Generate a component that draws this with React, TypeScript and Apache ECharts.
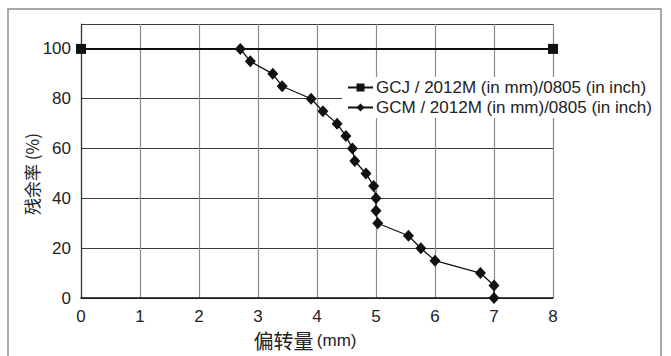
import React, { useEffect, useRef } from "react";
import * as echarts from "echarts";

const gcjX = [0, 8];
const gcjY = [100, 100];
const gcmX = [2.7, 2.87, 3.25, 3.41, 3.9, 4.1, 4.34, 4.49, 4.6, 4.64, 4.83, 4.96, 5.0, 5.0, 5.03, 5.55, 5.76, 6.0, 6.77, 7.0, 7.0];
const gcmY = [100, 95, 90, 85, 80, 75, 70, 65, 60, 55, 50, 45, 40, 35, 30, 25, 20, 15, 10, 5, 0];
const seriesNames = ["GCJ / 2012M (in mm)/0805 (in inch)", "GCM / 2012M (in mm)/0805 (in inch)"];
const xTicks = [0, 1, 2, 3, 4, 5, 6, 7, 8];
const yTicks = [0, 20, 40, 60, 80, 100];

const FONT = "Liberation Sans, Arial, sans-serif";
const CJK = "Noto Sans CJK SC, " + FONT;

export default function App() {
  const ref = useRef<HTMLDivElement>(null);
  useEffect(() => {
    document.body.style.margin = "0";
    const chart = echarts.init(ref.current!, null, { renderer: "svg" });
    chart.setOption({
      animation: false,
      backgroundColor: "#fff",
      textStyle: { fontFamily: FONT },
      grid: { left: 81, right: 118, top: 24, bottom: 58, containLabel: false },
      xAxis: {
        type: "value",
        min: xTicks[0],
        max: xTicks[xTicks.length - 1],
        interval: 1,
        axisLine: { show: true, lineStyle: { color: "#111", width: 1.5 } },
        axisTick: { show: false },
        axisLabel: { color: "#222", fontSize: 17, margin: 11, fontFamily: FONT, lineHeight: 15 },
        splitLine: { show: true, lineStyle: { color: "#8a8a8a", width: 1.2 } },
      },
      yAxis: {
        type: "value",
        min: 0,
        max: 110,
        interval: 20,
        axisLine: { show: true, lineStyle: { color: "#333", width: 1.2 } },
        axisTick: { show: false },
        axisLabel: {
          color: "#222",
          fontSize: 17,
          margin: 10,
          fontFamily: FONT,
          formatter: (v: number) => (yTicks.includes(v) ? String(v) : ""),
        },
        splitLine: { show: true, lineStyle: { color: "#3a3a3a", width: 1.2 } },
      },
      legend: {
        orient: "vertical",
        left: 342,
        top: 77,
        backgroundColor: "#fff",
        padding: [2, 4, 2, 5],
        itemWidth: 25,
        itemHeight: 10,
        itemGap: 3,
        textStyle: { fontSize: 17, color: "#222", fontFamily: FONT, padding: [0, 0, 0, -2] },
        data: [{ name: seriesNames[0] }, { name: seriesNames[1] }],
      },
      series: [
        {
          name: seriesNames[0],
          type: "line",
          data: gcjX.map((x, i) => [x, gcjY[i]]),
          symbol: "rect",
          symbolSize: 10,
          lineStyle: { color: "#111", width: 2 },
          itemStyle: { color: "#111" },
          z: 3,
        },
        {
          name: seriesNames[1],
          type: "line",
          data: gcmX.map((x, i) => [x, gcmY[i]]),
          symbol: "diamond",
          symbolSize: [11, 12],
          lineStyle: { color: "#111", width: 1.3 },
          itemStyle: { color: "#111" },
          z: 4,
        },
      ],
      graphic: [
        {
          type: "rect",
          shape: { x: 8, y: 9, width: 653, height: 360 },
          style: { fill: "none", stroke: "#8c8c8c", lineWidth: 1.5 },
          silent: true,
        },
        {
          type: "text",
          x: 31,
          y: 174,
          rotation: Math.PI / 2,
          style: {
            text: "残余率 (%)",
            fontSize: 17,
            fontFamily: CJK,
            fill: "#222",
            align: "center",
            verticalAlign: "middle",
          },
        },
        {
          type: "text",
          x: 305,
          y: 340,
          style: {
            text: "{a|偏转量} {b|(mm)}",
            rich: {
              a: { fontSize: 20, lineHeight: 18, fontFamily: CJK, fill: "#222" },
              b: { fontSize: 17, lineHeight: 18, fontFamily: FONT, fill: "#222" },
            },
            align: "center",
            verticalAlign: "middle",
          },
        },
      ],
    });
    return () => chart.dispose();
  }, []);
  return <div ref={ref} style={{ width: 671, height: 356, position: "absolute", left: 0, top: 0 }} />;
}
